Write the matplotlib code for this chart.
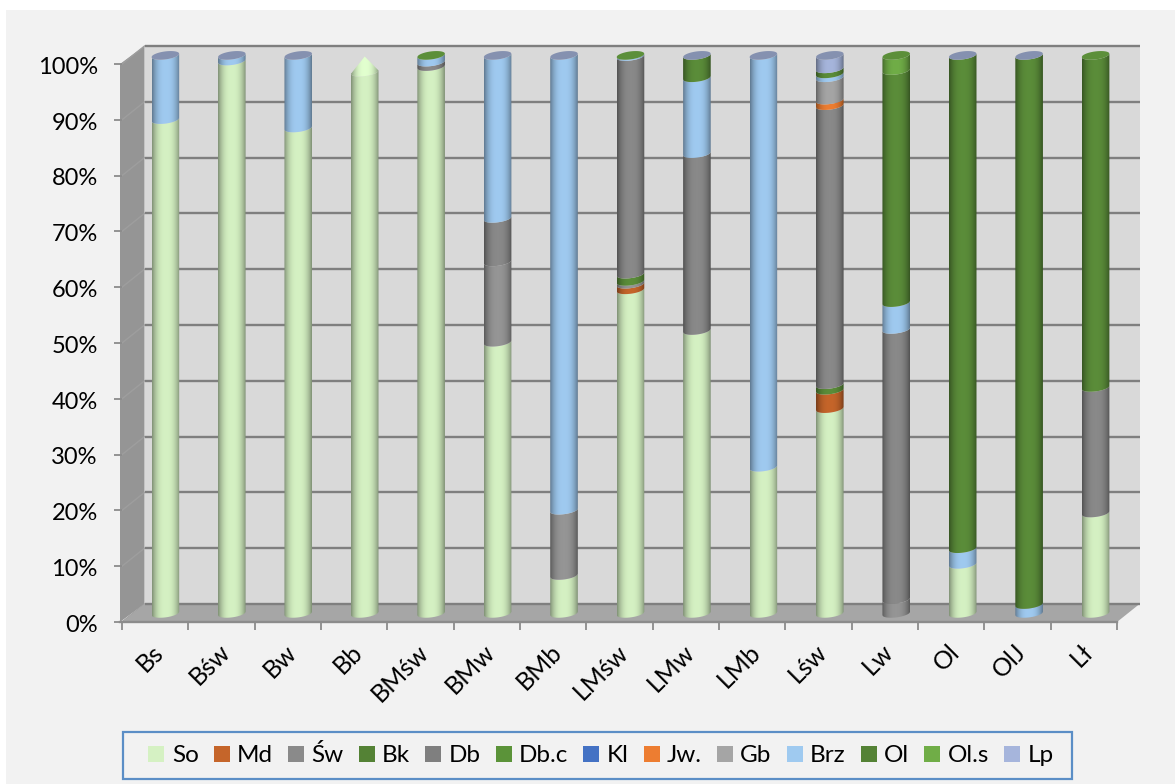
import numpy as np
import matplotlib
matplotlib.use("Agg")
import matplotlib.pyplot as plt
from matplotlib.patches import Polygon, Rectangle
from matplotlib.transforms import ScaledTranslation

categories = ["Bs", "Bśw", "Bw", "Bb", "BMśw", "BMw", "BMb", "LMśw", "LMw", "LMb", "Lśw", "Lw", "Ol", "OlJ", "Lł"]
So   = [88.5, 99, 87, 97, 98, 48.6, 6.8, 58, 50.7, 26.2, 36.7, 0, 8.8, 0, 18]
Md   = [0, 0, 0, 0, 0, 0, 0, 1, 0, 0, 3.3, 0, 0, 0, 0]
Sw   = [0, 0, 0, 0, 0, 14.4, 11.7, 0.5, 0, 0, 0, 2.5, 0, 0, 0]
Bk   = [0, 0, 0, 0, 0, 0, 0, 1.3, 0, 0, 1, 0, 0, 0, 0]
Db   = [0, 0, 0, 0, 0.8, 7.8, 0, 39, 31.7, 0, 50, 48.4, 0, 0, 22.5]
Dbc  = [0] * 15
Kl   = [0] * 15
Jw   = [0, 0, 0, 0, 0, 0, 0, 0, 0, 0, 1, 0, 0, 0, 0]
Gb   = [0, 0, 0, 0, 0, 0, 0, 0, 0, 0, 4, 0, 0, 0, 0]
Brz  = [11.5, 1, 13, 0, 1.2, 29.2, 81.5, 0.2, 13.6, 73.8, 0.7, 4.8, 2.8, 1.6, 0]
Ol   = [0, 0, 0, 0, 0, 0, 0, 0, 4, 0, 0.9, 41.6, 88.4, 98.4, 59.5]
Ols  = [0, 0, 0, 0, 0, 0, 0, 0, 0, 0, 0, 2.7, 0, 0, 0]
Lp   = [0, 0, 0, 0, 0, 0, 0, 0, 0, 0, 2.4, 0, 0, 0, 0]
series_names = ["So", "Md", "Św", "Bk", "Db", "Db.c", "Kl", "Jw.", "Gb", "Brz", "Ol", "Ol.s", "Lp"]
series_values = [So, Md, Sw, Bk, Db, Dbc, Kl, Jw, Gb, Brz, Ol, Ols, Lp]
series_colors = ["#D5F1C3", "#C5652A", "#8A8A8A", "#548235", "#7F7F7F", "#5B9339", "#4472C4",
                 "#ED7D31", "#A5A5A5", "#9FCAF0", "#548235", "#70AD47", "#A6B5DC"]
cap_series = ["Lp", "Lp", "Lp", None, "Ol", "Lp", "Lp", "Ol", "Lp", "Lp", "Lp", "Ol", "Lp", "Lp", "Ol"]
cone_top = {"Bb": 100}
y_ticks = list(range(0, 101, 10))

W, H = 1175, 784
plt.rcParams["font.family"] = ["Lato", "DejaVu Sans"]
fig = plt.figure(figsize=(W / 100, H / 100), dpi=100, facecolor="white")
fig.add_artist(Rectangle((6 / W, 0), 1, 1 - 10 / H, transform=fig.transFigure, fc="#F2F2F2", ec="none", zorder=-5))

L, R, T, B = 122, 1117, 64, 622
ax = fig.add_axes([L / W, 1 - B / H, (R - L) / W, (B - T) / H])
ax.patch.set_visible(False)
for s in ax.spines.values():
    s.set_visible(False)
px_x = 15 / (R - L)
px_y = 100 / (B - T)
bx, by = 22.5 * px_x, 18 * px_y   # depth of the box
cx_off, cy_off = 10.2 * px_x, 8.6 * px_y  # bars stand mid-depth
cx_stretch = 1 + 0.11 * px_x      # the bars are spaced a little wider than the ticks
hw = 13.8 * px_x
eh = 4.0 * px_y
tilt = 1.7 * px_y

# walls
ax.add_patch(Polygon([(-2 * px_x, 0), (bx, by), (bx, 100 + by), (-2 * px_x, 100)], fc="#959595", ec="none", zorder=1, clip_on=False))
ax.add_patch(Polygon([(bx, by), (15 + bx, by), (15 + bx, 100 + by), (bx, 100 + by)], fc="#D9D9D9", ec="none", zorder=1, clip_on=False))
ax.add_patch(Polygon([(0, 0), (bx, by), (15 + bx, by), (15, 0)], fc="#A6A6A6", ec="none", zorder=1.5, clip_on=False))
for v in y_ticks:
    ax.plot([bx, 15 + bx], [v + by, v + by], color="#7F7F7F", lw=1.7, zorder=2, clip_on=False, solid_capstyle="butt")
    ax.plot([0, bx], [v, v + by], color="#9E9E9E", lw=1.0, zorder=1.2, clip_on=False)

t = np.linspace(-1, 1, 61)
arc = np.sqrt(np.clip(1 - t ** 2, 0, 1))
u = np.linspace(-1, 1, 80)
shade = 0.60 + 0.40 * (1 - np.abs(u) ** 2.6)
bright_series = {"Św", "Db", "Ol", "Bk"}


def gradient(hex_color, gain=1.0):
    rgb = np.array(matplotlib.colors.to_rgb(hex_color))
    return np.clip(shade[None, :, None] * rgb[None, None, :] * gain, 0, 1)


def paint(poly_xy, cx, v0, v1, color, z, gain=1.0):
    im = ax.imshow(gradient(color, gain), extent=(cx - hw, cx + hw, v0 - 3, v1 + 3), aspect="auto",
                   interpolation="bilinear", zorder=z)
    clip = Polygon(poly_xy, transform=ax.transData, fc="none", ec="none")
    im.set_clip_box(fig.bbox)
    im.set_clip_path(clip)


for i, cat in enumerate(categories):
    cx = (i * cx_stretch) + 0.5 + cx_off
    x = cx + hw * t
    base = 0.0
    for name, vals, col in zip(series_names, series_values, series_colors):
        h = vals[i]
        if h <= 0:
            continue
        v0, v1 = base + cy_off, base + h + cy_off
        lo = v0 + tilt * t - eh * arc
        hi = v1 + tilt * t - eh * arc
        poly = np.r_[np.c_[x, lo], np.c_[x[::-1], hi[::-1]]]
        paint(poly, cx, v0, v1, col, 3 + base / 1000, gain=1.08 if name in bright_series else 1.0)
        base += h
    cap = cap_series[i]
    if cat in cone_top:
        c0 = base + cy_off
        lo = c0 + tilt * t - eh * arc
        poly = np.r_[np.c_[x, lo], [[cx, cone_top[cat] + cy_off - 0.2]]]
        paint(poly, cx, c0, cone_top[cat] + cy_off, series_colors[0], 3.5, gain=1.06)
    elif cap is not None:
        k = series_names.index(cap)
        rgb = np.array(matplotlib.colors.to_rgb(series_colors[k]))
        rgb = rgb * (0.8 if cap == "Lp" else 1.1)
        v = base + cy_off
        poly = np.r_[np.c_[x, v + tilt * t - eh * arc], np.c_[x[::-1], v + tilt * t[::-1] + eh * arc[::-1]]]
        ax.add_patch(Polygon(poly, fc=np.clip(rgb, 0, 1), ec="none", zorder=3.6, clip_on=False))

ax.set_xlim(0, 15)
ax.set_ylim(0, 100)

# axes
ax.plot([-2 * px_x, 15], [0, 0], color="#8C8C8C", lw=1.7, clip_on=False, zorder=2.5)
ax.set_yticks(y_ticks)
ax.set_yticklabels([f"{v}%" for v in y_ticks], fontsize=17, color="black")
ax.set_xticks(range(16))
ax.set_xticklabels([])
ax.set_xticks(np.arange(15) + 0.5, minor=True)
ax.set_xticklabels(categories, minor=True, fontsize=18, rotation=45, ha="right", va="top", rotation_mode="anchor")
ax.tick_params(axis="x", which="major", length=5.8, width=1.3, color="#8C8C8C", pad=2)
ax.tick_params(axis="x", which="minor", length=0, pad=13)
ax.tick_params(axis="y", length=5.5, width=1.3, color="#8C8C8C", pad=12)
for lab in ax.get_yticklabels():
    lab.set_transform(lab.get_transform() + ScaledTranslation(0, -1 / 72, fig.dpi_scale_trans))
for lab in ax.get_xticklabels(minor=True):
    lab.set_transform(lab.get_transform() + ScaledTranslation(-2.5 / 72, 0, fig.dpi_scale_trans))

fig.add_artist(Rectangle((122.5 / W, 1 - 779 / H), 949.5 / W, 47.5 / H, transform=fig.transFigure,
                         fc="#F2F2F2", ec="#5B8EC6", lw=1.6, zorder=1))
handles = [Rectangle((0, 0), 1, 1, fc=c, ec="none") for c in series_colors]
leg = fig.legend(handles, series_names, loc="center", bbox_to_anchor=(601 / W, 1 - 755.5 / H), ncol=13,
                 fontsize=17.5, frameon=False, handlelength=0.66, handleheight=0.66, handletextpad=0.3,
                 columnspacing=0.62, borderpad=0)
leg.set_zorder(2)

fig.savefig("out.png", dpi=100, facecolor=fig.get_facecolor())
